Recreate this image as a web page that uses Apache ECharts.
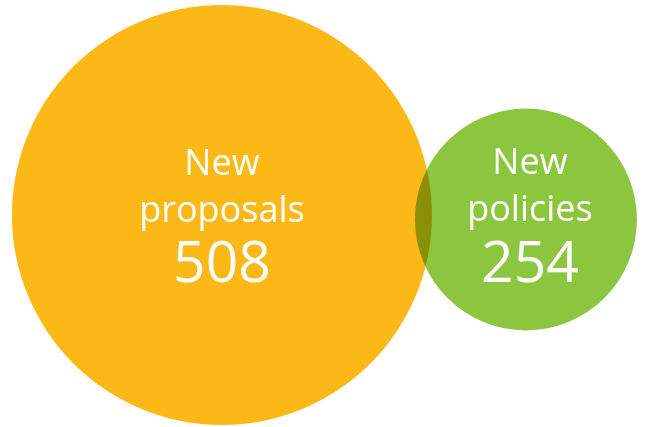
<!DOCTYPE html>
<html>
<head>
<meta charset="utf-8">
<script src="https://cdn.jsdelivr.net/npm/echarts@6/dist/echarts.min.js"></script>
<style>html,body{margin:0;padding:0;background:#fff}#c{width:651px;height:427px}</style>
</head>
<body>
<div id="c"></div>
<script>
var categories = ['New\nproposals', 'New\npolicies'];
var values = [508, 254];

var colors = ['#FBB817', '#8CC63F'];
var diameters = [420, 222];
var yOffsets = [1.5, 6];
var labelOffsets = [[0, 4], [4, -1]];

var chart = echarts.init(document.getElementById('c'), null, {renderer: 'canvas'});
chart.setOption({
  animation: false,
  grid: {left: 0, right: 0, top: 0, bottom: 0},
  xAxis: {type: 'value', min: -0.730, max: 1.4114, show: false},
  yAxis: {type: 'value', min: -1, max: 1, show: false},
  series: [{
    type: 'scatter',
    blendMode: 'multiply',
    data: values.map(function (v, i) {
      return {
        value: [i, 0],
        symbolSize: diameters[i],
        symbolOffset: [0, yOffsets[i]],
        itemStyle: {color: colors[i], opacity: 1},
        label: {offset: labelOffsets[i]}
      };
    }),
    label: {
      show: true,
      position: 'inside',
      color: '#fff',
      fontFamily: 'Open Sans',
      formatter: function (p) {
        var lines = categories[p.dataIndex].split('\n');
        return '{a|' + lines[0] + '}\n{a|' + lines[1] + '}\n{b|' + values[p.dataIndex] + '}';
      },
      rich: {
        a: {fontSize: 36, lineHeight: 47, color: '#fff', fontFamily: 'Open Sans'},
        b: {fontSize: 57, lineHeight: 62, color: '#fff', fontFamily: 'Open Sans'}
      }
    }
  }]
});
</script>
</body>
</html>
